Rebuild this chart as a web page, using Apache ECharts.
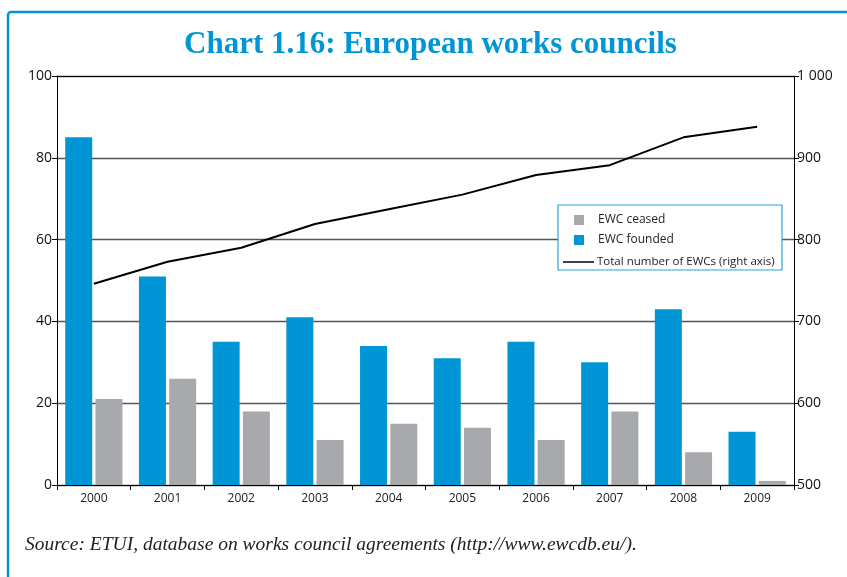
<!DOCTYPE html>
<html>
<head>
<meta charset="utf-8">
<script src="https://cdn.jsdelivr.net/npm/echarts@6/dist/echarts.min.js"></script>
<style>
  html, body { margin: 0; padding: 0; background: #fff; }
  #chart { width: 847px; height: 577px; }
</style>
</head>
<body>
<div id="chart"></div>
<script>
// data
const years = ['2000', '2001', '2002', '2003', '2004', '2005', '2006', '2007', '2008', '2009']
const ewcFounded = [85, 51, 35, 41, 34, 31, 35, 30, 43, 13]
const ewcCeased = [21, 26, 18, 11, 15, 14, 11, 18, 8, 1]
const ewcTotal = [746, 773, 790, 819, 837, 855, 879, 891, 925, 938]
const leftTicks = [0, 100, 20] // min, max, step
const rightTicks = [500, 1000, 100]

const blue = '#0096d6'
const grey = '#a7a9ac'
const sans = '"Open Sans", "Noto Sans", sans-serif'
const serif = '"Liberation Serif", "DejaVu Serif", serif'

const chart = echarts.init(document.getElementById('chart'))

const option = {
  animation: false,
  title: [
    {
      text: 'Chart 1.16: European works councils',
      left: 179,
      top: 24,
      textStyle: { fontFamily: serif, fontWeight: 'bold', fontSize: 31, color: blue }
    },
    {
      text: 'Source: ETUI, database on works council agreements (http://www.ewcdb.eu/).',
      left: 20,
      top: 530,
      textStyle: { fontFamily: serif, fontStyle: 'italic', fontWeight: 'normal', fontSize: 19.5, color: '#222' }
    }
  ],
  graphic: [
    // outer frame, cut by the right and bottom edges
    {
      type: 'rect',
      z: 0,
      shape: { x: 8, y: 12, width: 900, height: 700, r: 3 },
      style: { fill: 'none', stroke: blue, lineWidth: 2.5 }
    },
    // legend box
    {
      type: 'rect',
      z: 6,
      shape: { x: 558, y: 205, width: 224, height: 65 },
      style: { fill: '#fff', stroke: '#29a6dd', lineWidth: 1.2 }
    }
  ],
  legend: [
    {
      data: ['EWC ceased', 'EWC founded'],
      orient: 'vertical',
      left: 574,
      top: 214,
      padding: 0,
      z: 10,
      icon: 'rect',
      itemWidth: 10,
      itemHeight: 10,
      itemGap: 8,
      textStyle: { fontFamily: sans, fontSize: 12, color: '#222', padding: [0, 0, 0, 9] }
    },
    {
      data: ['Total number of EWCs (right axis)'],
      left: 563,
      top: 256,
      padding: 0,
      z: 10,
      icon: 'rect',
      itemWidth: 31,
      itemHeight: 1.5,
      itemStyle: { color: '#000' },
      textStyle: { fontFamily: sans, fontSize: 11.5, color: '#222', padding: [0, 0, 0, -2] }
    }
  ],
  grid: { left: 57, right: 53, top: 76, bottom: 92 },
  xAxis: [
    {
      type: 'category',
      data: years,
      axisLine: { lineStyle: { color: '#000', width: 1 } },
      axisTick: { show: true, length: 5, lineStyle: { color: '#000' } },
      axisLabel: { fontFamily: sans, fontSize: 12, color: '#222', margin: 8 }
    },
    {
      // top border line of the plot
      type: 'category',
      position: 'top',
      data: years,
      axisLine: { lineStyle: { color: '#000', width: 1 } },
      axisTick: { show: false },
      axisLabel: { show: false }
    }
  ],
  yAxis: [
    {
      type: 'value',
      min: leftTicks[0],
      max: leftTicks[1],
      interval: leftTicks[2],
      axisLine: { show: true, lineStyle: { color: '#000' } },
      axisTick: { show: true, length: 5, lineStyle: { color: '#000' } },
      axisLabel: { fontFamily: sans, fontSize: 14, color: '#111', margin: 5 },
      splitLine: { lineStyle: { color: '#555', width: 1.3 } }
    },
    {
      type: 'value',
      min: rightTicks[0],
      max: rightTicks[1],
      interval: rightTicks[2],
      axisLine: { show: true, lineStyle: { color: '#000' } },
      axisTick: { show: true, length: 5, lineStyle: { color: '#000' } },
      axisLabel: {
        fontFamily: sans, fontSize: 14, color: '#111', margin: 3,
        formatter: v => v >= 1000 ? String(v).replace(/(\d)(\d{3})$/, '$1 $2') : String(v)
      },
      splitLine: { show: false }
    }
  ],
  series: [
    {
      name: 'EWC founded',
      type: 'bar',
      data: ewcFounded,
      barWidth: 27,
      barGap: '12%',
      itemStyle: { color: blue }
    },
    {
      name: 'EWC ceased',
      type: 'bar',
      data: ewcCeased,
      barWidth: 27,
      itemStyle: { color: grey }
    },
    {
      name: 'Total number of EWCs (right axis)',
      type: 'line',
      yAxisIndex: 1,
      data: ewcTotal,
      symbol: 'none',
      lineStyle: { color: '#000', width: 2 },
      itemStyle: { color: '#000' }
    }
  ]
}

chart.setOption(option)
</script>
</body>
</html>
